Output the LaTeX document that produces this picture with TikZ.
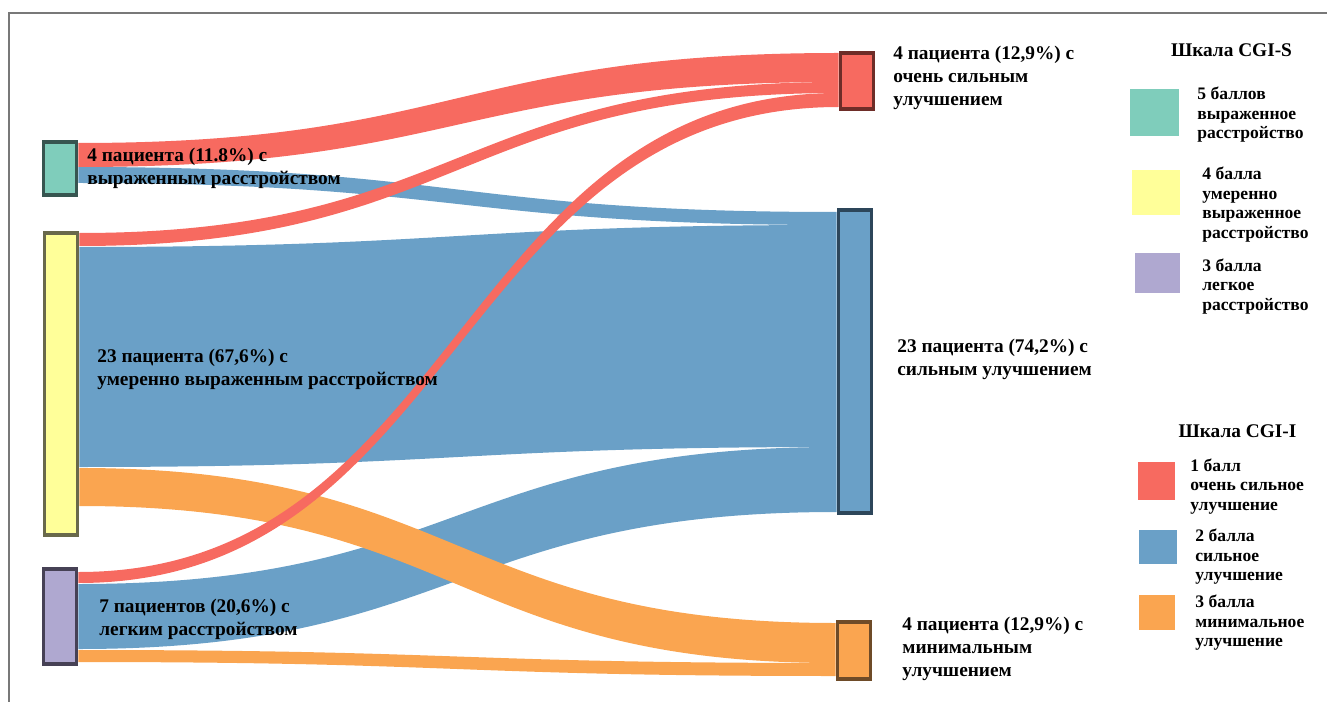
\documentclass[tikz,border=0pt]{standalone}
\usepackage{fontspec}
\setmainfont{Liberation Serif}
\usetikzlibrary{backgrounds}
\usetikzlibrary{positioning}

\definecolor{cteal}{RGB}{127,205,187}
\definecolor{cyellow}{RGB}{255,255,153}
\definecolor{cpurple}{RGB}{175,168,208}
\definecolor{cred}{RGB}{247,106,96}
\definecolor{cblue}{RGB}{106,160,199}
\definecolor{corange}{RGB}{250,165,80}
\definecolor{cframe}{RGB}{120,120,120}

% ribbon: colour, from node, top, bottom, to node, top, bottom (y in px)
\newcommand\flow[7]{%
  \fill[#1] (#2.east |- 0,#3) .. controls +(380,0) and +(-380,0) .. (#5.west |- 0,#6)
    -- (#5.west |- 0,#7) .. controls +(-380,0) and +(380,0) .. (#2.east |- 0,#4) -- cycle;}

\begin{document}
\begin{tikzpicture}[x=0.02cm, y=-0.02cm,
  bar/.style={rectangle, draw, line width=2.2pt, minimum width=0.66cm, inner sep=0pt},
  lbl/.style={font=\bfseries\fontsize{11}{13.1}\selectfont, align=left, inner sep=0pt, anchor=west},
  key/.style={font=\bfseries\fontsize{10}{11.1}\selectfont, align=left, inner sep=0pt, anchor=west},
  ttl/.style={font=\bfseries\fontsize{11}{13}\selectfont, inner sep=0pt},
  swatch/.style={rectangle, inner sep=0pt}]
  \useasboundingbox (0,0) rectangle (1327,702);
  \draw[cframe, line width=1.1pt] (9,702) -- (9,13) -- (1327,13);

  % CGI-S nodes (left) and CGI-I nodes (right)
  \node[bar, fill=cteal, draw={rgb,255:red,55;green,85;blue,80}, minimum height=1.06cm] (s5) at (60,168.5) {};
  \node[bar, fill=cyellow, draw={rgb,255:red,105;green,105;blue,75}, minimum height=6.04cm] (s4) at (61,384) {};
  \node[bar, fill=cpurple, draw={rgb,255:red,70;green,65;blue,85}, minimum height=1.9cm] (s3) at (60,616.5) {};
  \node[bar, fill=cred, draw={rgb,255:red,110;green,45;blue,40}, minimum height=1.12cm] (i1) at (857,81) {};
  \node[bar, fill=cblue, draw={rgb,255:red,45;green,70;blue,90}, minimum height=6.06cm] (i2) at (855,361.5) {};
  \node[bar, fill=corange, draw={rgb,255:red,110;green,75;blue,40}, minimum height=1.14cm] (i3) at (854,650.5) {};

  % flows
  \begin{scope}[on background layer]
  \flow{cblue}{s5}{167}{183}{i2}{212}{225}
  \flow{cblue}{s4}{247}{467}{i2}{225}{447}
  \flow{cblue}{s3}{584}{649}{i2}{447}{512}
  \flow{corange}{s4}{468}{506}{i3}{623}{663}
  \flow{corange}{s3}{650}{662}{i3}{663}{676}
  \flow{cred}{s5}{143}{167}{i1}{53}{82}
  \flow{cred}{s4}{233}{246}{i1}{82}{93}
  \flow{cred}{s3}{572}{583}{i1}{93}{107}
  \end{scope}

  % labels
  \node[lbl] (s5lbl) at (87,168.5) {4 пациента (11.8\%) с\\выраженным расстройством};
  \node[lbl] (s4lbl) at (97,369.5) {23 пациента (67,6\%) с\\умеренно выраженным расстройством};
  \node[lbl] (s3lbl) at (99,619) {7 пациентов (20,6\%) с\\легким расстройством};
  \node[lbl] (i1lbl) at (893,78) {4 пациента (12,9\%) с\\очень сильным\\улучшением};
  \node[lbl] (i2lbl) at (897,359.5) {23 пациента (74,2\%) с\\сильным улучшением};
  \node[lbl] (i3lbl) at (902,649) {4 пациента (12,9\%) с\\минимальным\\улучшением};

  % legend
  \node[ttl] (sttl) at (1231.5,50) {Шкала CGI-S};
  \node[swatch, fill=cteal, minimum width=0.98cm, minimum height=0.94cm] (k5) at (1154.5,112.5) {};
  \node[key] (k5lbl) at (1197,115) {5 баллов\\выраженное\\расстройство};
  \node[swatch, fill=cyellow, minimum width=0.96cm, minimum height=0.9cm] (k4) at (1156,192.5) {};
  \node[key] (k4lbl) at (1202,204.5) {4 балла\\умеренно\\выраженное\\расстройство};
  \node[swatch, fill=cpurple, minimum width=0.9cm, minimum height=0.8cm] (k3) at (1157.5,273) {};
  \node[key] (k3lbl) at (1202,286.5) {3 балла\\легкое\\расстройство};

  \node[ttl] (ittl) at (1237.5,431) {Шкала CGI-I};
  \node[swatch, fill=cred, minimum width=0.74cm, minimum height=0.76cm] (k1) at (1156.5,481) {};
  \node[key] (k1lbl) at (1190,486.5) {1 балл\\очень сильное\\улучшение};
  \node[swatch, fill=cblue, minimum width=0.76cm, minimum height=0.68cm] (k2) at (1158,547) {};
  \node[key] (k2lbl) at (1195,557) {2 балла\\сильное\\улучшение};
  \node[swatch, fill=corange, minimum width=0.72cm, minimum height=0.7cm] (kk3) at (1157,612.5) {};
  \node[key] (kk3lbl) at (1195,623) {3 балла\\минимальное\\улучшение};
\end{tikzpicture}
\end{document}
